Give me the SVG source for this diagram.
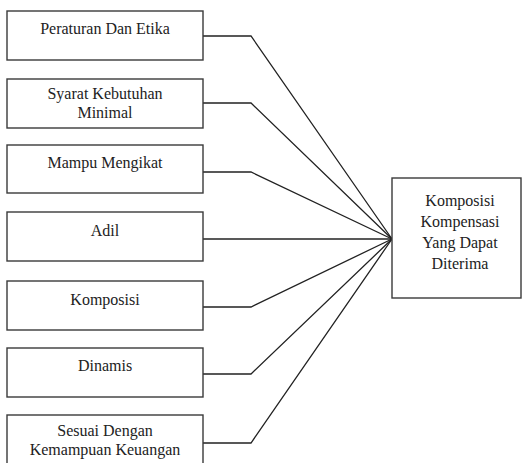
<svg xmlns="http://www.w3.org/2000/svg" width="522" height="463" viewBox="0 0 522 463">
<style>
.box{fill:#fff;stroke:#3a3a3a;stroke-width:1.4}
.t{font-family:"Liberation Serif","Times New Roman",Times,Tinos,"Noto Serif","DejaVu Serif",serif;font-size:16px;fill:#222;text-anchor:middle}
.c{fill:none;stroke:#222;stroke-width:1.3}
</style>
<rect width="522" height="463" fill="#fff"/>
<g id="connectors">
<polyline class="c" points="203,36 251,36 392,239"/>
<polyline class="c" points="203,103 251,103 392,239"/>
<polyline class="c" points="203,172 251,172 392,239"/>
<polyline class="c" points="203,239 392,239"/>
<polyline class="c" points="203,307 251,307 392,239"/>
<polyline class="c" points="203,374 251,374 392,239"/>
<polyline class="c" points="203,443 251,443 392,239"/>
</g>
<g id="n1"><rect class="box" x="7" y="11" width="196" height="49"/><text class="t" x="105" y="34">Peraturan Dan Etika</text></g>
<g id="n2"><rect class="box" x="7" y="79" width="196" height="49"/><text class="t" x="105" y="99">Syarat Kebutuhan</text><text class="t" x="105" y="118">Minimal</text></g>
<g id="n3"><rect class="box" x="7" y="145" width="196" height="48"/><text class="t" x="105" y="168">Mampu Mengikat</text></g>
<g id="n4"><rect class="box" x="7" y="212" width="196" height="49"/><text class="t" x="105" y="236">Adil</text></g>
<g id="n5"><rect class="box" x="7" y="281" width="196" height="49"/><text class="t" x="105" y="305">Komposisi</text></g>
<g id="n6"><rect class="box" x="7" y="348" width="196" height="49"/><text class="t" x="105" y="371">Dinamis</text></g>
<g id="n7"><rect class="box" x="7" y="415" width="196" height="60"/><text class="t" x="105" y="436">Sesuai Dengan</text><text class="t" x="105" y="455">Kemampuan Keuangan</text></g>
<g id="target"><rect class="box" x="392" y="178" width="129" height="120"/><text class="t" x="460" y="206">Komposisi</text><text class="t" x="460" y="227">Kompensasi</text><text class="t" x="460" y="248">Yang Dapat</text><text class="t" x="460" y="269">Diterima</text></g>
</svg>
